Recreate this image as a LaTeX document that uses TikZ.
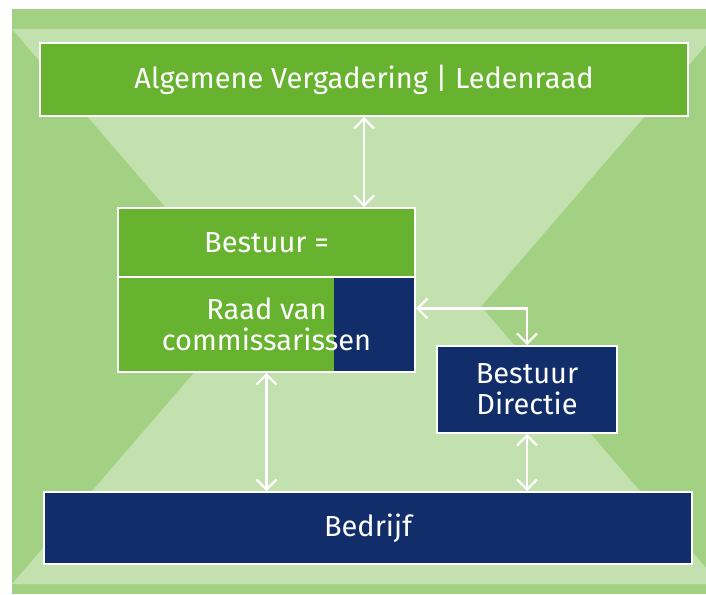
\documentclass[tikz,border=0pt]{standalone}
\usepackage{fontspec}
\setmainfont{Fira Sans}
\usetikzlibrary{arrows.meta}
\definecolor{midgreen}{HTML}{A3D184}
\definecolor{lightgreen}{HTML}{C2E1AE}
\definecolor{boxgreen}{HTML}{67B22F}
\definecolor{navy}{HTML}{112D6A}
\begin{document}
\begin{tikzpicture}[x=1pt,y=-1pt,
  box/.style={draw=white,line width=2.4pt,text=white,inner sep=0pt,align=center,
    font=\fontsize{29}{31}\selectfont},
  biarrow/.style={draw=white,line width=2.2pt,{Straight Barb[length=10pt,width=20pt]}-{Straight Barb[length=10pt,width=20pt]}}]
\useasboundingbox (0,0) rectangle (706,594);

% background
\fill[midgreen] (12,9) rectangle (706,594);
\begin{scope}
\clip (12,9) rectangle (706,594);
\fill[lightgreen] (12,29) -- (720,29) -- (366,440) -- cycle;
\fill[lightgreen] (12,584) -- (720,584) -- (366,173) -- cycle;
\end{scope}

% boxes
\node[box,fill=boxgreen,minimum width=647.6pt,minimum height=72.6pt] (av) at (364,79.5) {Algemene Vergadering | Ledenraad};
\node[box,fill=boxgreen,minimum width=296.6pt,minimum height=68.8pt] (bestuur) at (266.5,242.6) {Bestuur =};
\node[box,fill=boxgreen,minimum width=296.6pt,minimum height=94.8pt,
  path picture={\fill[navy] ([xshift=-80.8pt]path picture bounding box.north east) rectangle (path picture bounding box.south east);}]
  (rvc) at (266.5,324.4) {Raad van\\commissarissen};
\node[box,fill=navy,minimum width=179.6pt,minimum height=86.6pt] (dir) at (527,389.5) {Bestuur\\Directie};
\node[box,fill=navy,minimum width=647.6pt,minimum height=71.6pt] (bedrijf) at (368,528) {Bedrijf};

% connectors
\draw[biarrow] (av.south) -- (av.south |- bestuur.north);
\draw[biarrow] ([yshift=16pt]rvc.east) -| (dir.north);
\draw[biarrow] (rvc.south) -- (rvc.south |- bedrijf.north);
\draw[biarrow] (dir.south) -- (dir.south |- bedrijf.north);
\end{tikzpicture}
\end{document}
